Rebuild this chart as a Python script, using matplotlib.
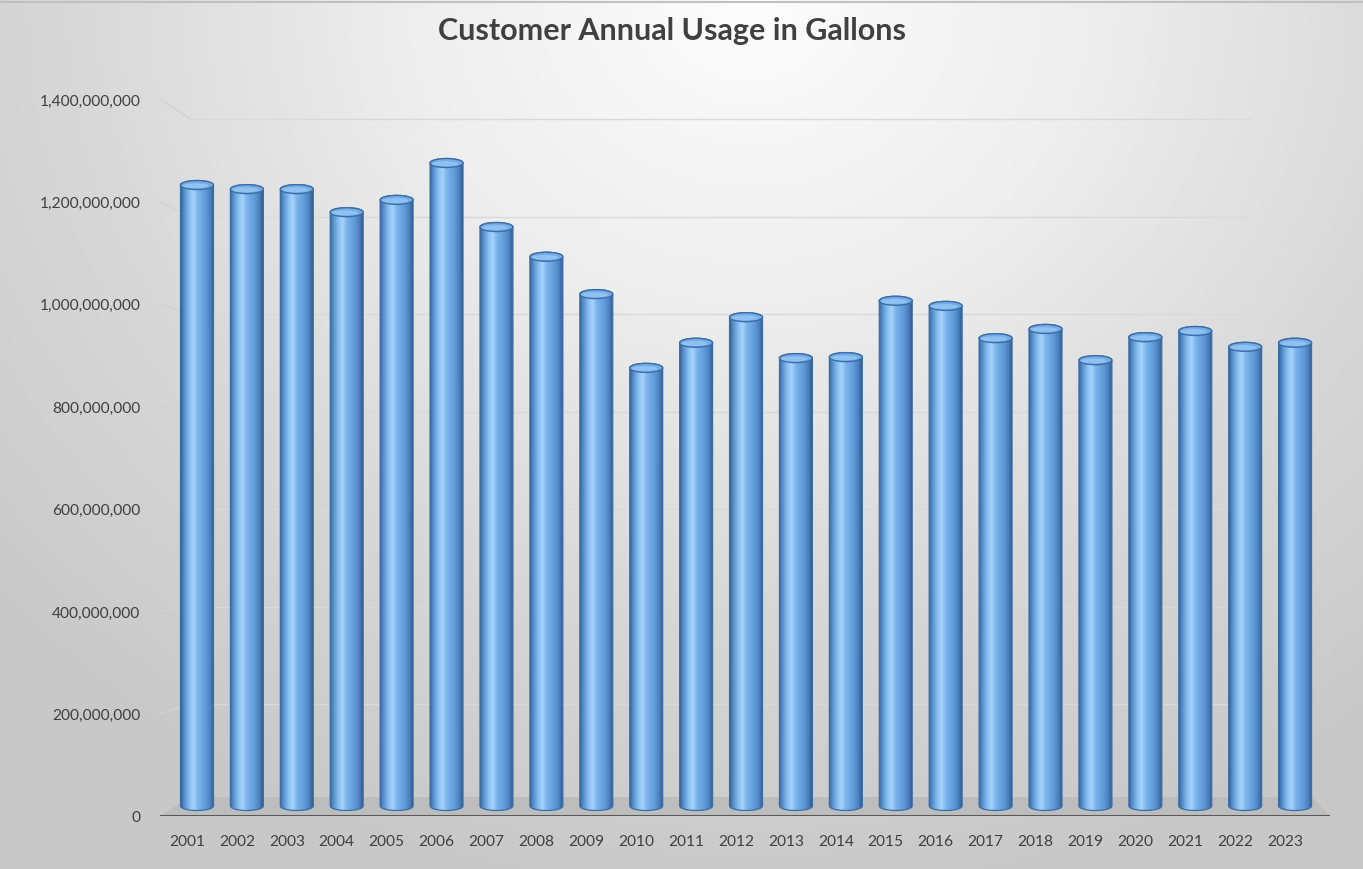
import numpy as np
import matplotlib
matplotlib.use("Agg")
import matplotlib.pyplot as plt
from matplotlib.colors import LinearSegmentedColormap
from matplotlib.patches import PathPatch, Ellipse, Polygon
from matplotlib.path import Path
from matplotlib.ticker import FuncFormatter

plt.rcParams['font.family'] = ['Lato', 'DejaVu Sans']

# ---- data ----
years = [str(y) for y in range(2001, 2024)]
usage = [1232e6, 1224e6, 1224e6, 1179e6, 1203e6, 1275e6, 1150e6, 1092e6,
         1019e6, 875e6, 924e6, 974e6, 894e6, 896e6, 1006e6, 996e6,
         933e6, 951e6, 890e6, 935e6, 947e6, 916e6, 924e6]
y_ticks = [0, 200e6, 400e6, 600e6, 800e6, 1000e6, 1200e6, 1400e6]
title = "Customer Annual Usage in Gallons"

W, H = 1363, 870
fig = plt.figure(figsize=(W / 100, H / 100), dpi=100)

# ---- background gradient ----
bg = fig.add_axes([0, 0, 1, 1], zorder=-10)
gx, gy = np.meshgrid(np.linspace(0, 1, 400), np.linspace(0, 1, 260))
cx, cy = 0.55, 0.0
d = np.sqrt(((gx - cx) / 0.75) ** 2 + ((gy - cy) / 1.05) ** 2)
d = np.clip(d, 0, 1)
bgcmap = LinearSegmentedColormap.from_list("bg", ["#fdfdfd", "#eeeeee", "#d8d8d8", "#c8c8c8"])
bg.imshow(d, cmap=bgcmap, extent=[0, 1, 0, 1], aspect='auto', origin='upper', vmin=0, vmax=1)
bg.plot([0, 1], [1 - 3 / H, 1 - 3 / H], color="#c0c0c0", lw=1.5)
bg.set_xlim(0, 1)
bg.set_ylim(0, 1)
bg.axis('off')

# ---- main axes ----
ax = fig.add_axes([160 / W, (H - 817) / H, 1170 / W, 717 / H])
ax.patch.set_alpha(0)
n = len(years)
xs = np.arange(n)
xmin, xmax = -0.541, 22.9
ymax = 1400e6
ax.set_xlim(xmin, xmax)
ax.set_ylim(0, ymax)

px_per_y = 717 / ymax          # pixels per data unit (y)
px_per_x = 1170 / (xmax - xmin)

# back-wall gridlines with slanted side-wall segments
for v in y_ticks[1:]:
    vb = 0.9526 * v + 27.3e6
    xb = xmin + 30 / px_per_x
    ax.plot([xmin, xb], [v, vb], color="#d2d2d2", lw=1.0, zorder=1)
    ax.plot([xb, 21.3], [vb, vb], color="#d9d9d9", lw=1.0, zorder=1)

# floor
fy = 19 / px_per_y
floor = Polygon([[xmin, 0], [xmax, 0], [xmax - 18 / px_per_x, fy], [xmin + 30 / px_per_x, fy]],
                closed=True, facecolor="#bdbdbd", edgecolor="none", zorder=2)
ax.add_patch(floor)
ax.axhline(0, color="#595959", lw=2.2, zorder=6)

# cylinders
cyl_cmap = LinearSegmentedColormap.from_list(
    "cyl", [(0.0, "#35649a"), (0.08, "#4f88c4"), (0.25, "#86bdf0"), (0.38, "#a6d3fa"),
            (0.52, "#7ab3ec"), (0.75, "#5f9ad8"), (0.9, "#4a7fbb"), (1.0, "#2d5a8e")])
grad = np.linspace(0, 1, 256).reshape(1, -1)
bw = 0.66
off = 0.2
ry = 4.5 / px_per_y
base = 10 / px_per_y
t_top = np.linspace(np.pi, 0, 40)
t_bot = np.linspace(0, -np.pi, 40)
for i, v in enumerate(usage):
    xc = xs[i] + off
    rx = bw / 2
    verts = [(xc - rx, base)]
    verts += [(xc + rx * np.cos(t), v + ry * np.sin(t)) for t in t_top]
    verts += [(xc + rx * np.cos(t), base + ry * np.sin(t)) for t in t_bot]
    verts.append((xc - rx, base))
    path = Path(verts, closed=True)
    outline = PathPatch(path, facecolor="none", edgecolor="#3c6ea6", lw=0.9, zorder=5)
    ax.add_patch(outline)
    im = ax.imshow(grad, cmap=cyl_cmap, extent=[xc - rx, xc + rx, base - ry, v + ry],
                   aspect='auto', zorder=4, interpolation='bilinear')
    im.set_clip_path(outline)
    cap = Ellipse((xc, v), 2 * rx, 2 * ry, facecolor="#74ace6", edgecolor="#3c6ea6",
                  lw=1.0, zorder=6)
    ax.add_patch(cap)
    cap2 = Ellipse((xc - 0.03, v - ry * 0.15), 2 * rx * 0.8, 2 * ry * 0.55, facecolor="#8fc2f2",
                   edgecolor="none", zorder=6)
    ax.add_patch(cap2)

ax.set_xlim(xmin, xmax)
ax.set_ylim(0, ymax)
ax.set_xticks(xs)
ax.set_xticklabels(years)
ax.set_yticks(y_ticks)
ax.yaxis.set_major_formatter(FuncFormatter(lambda v, p: f"{int(round(v)):,}"))
ax.tick_params(axis='both', length=0, labelsize=11.2, colors="#404040")
ax.tick_params(axis='x', pad=13)
ax.tick_params(axis='y', pad=14)
for s in ax.spines.values():
    s.set_visible(False)

fig.text(672.5 / W, 1 - 31 / H, title, ha='center', va='center', fontsize=22,
         fontweight='bold', color="#404040")

fig.savefig("out.png", dpi=100)
